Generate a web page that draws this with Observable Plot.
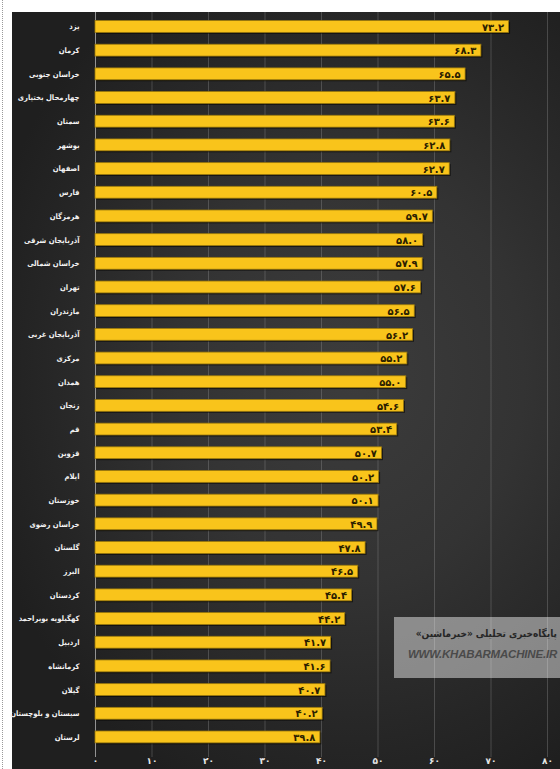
<!DOCTYPE html>
<html>
<head>
<meta charset="utf-8">
<script src="https://cdn.jsdelivr.net/npm/d3@7"></script>
<script src="https://cdn.jsdelivr.net/npm/@observablehq/plot@0.6"></script>
<style>
  html, body { margin: 0; padding: 0; background: #fff; }
  #page { position: relative; width: 560px; height: 769px; overflow: hidden; background: #fff; }
  #dots { position: absolute; left: 2px; top: 0; height: 769px; border-left: 1px dotted #9a9a9a; }
  #panel { position: absolute; left: 12px; top: 12px; width: 548px; height: 757px;
    background: radial-gradient(ellipse 70% 60% at 62% 48%, #3c3c3c 0%, #333 45%, #262626 80%, #1f1f1f 100%); }
  #panel svg { display: block; overflow: visible; }
  #wm { position: absolute; left: 394px; top: 617px; width: 166px; height: 61px;
    background: rgba(255,255,255,0.45); box-sizing: border-box; padding-right: 3px; }
  #wm .fa { direction: rtl; text-align: right; font-family: "DejaVu Sans Condensed", "DejaVu Sans", sans-serif; font-weight: bold;
    font-size: 10px; color: #262626; margin-top: 11px; white-space: nowrap; }
  #wm .en { text-align: right; font-family: "Liberation Sans", Arial, sans-serif; font-style: italic; font-weight: bold;
    font-size: 11.5px; color: #4a4a4a; margin-top: 9px; white-space: nowrap; letter-spacing: -0.2px; }
</style>
</head>
<body>
<div id="page">
  <div id="dots"></div>
  <div id="panel"></div>
  <div id="wm">
    <div class="fa">پایگاه‌خبری تحلیلی «خبرماشین»</div>
    <div class="en">WWW.KHABARMACHINE.IR</div>
  </div>
</div>
<script>
// ---- data ----
const provinces = [
  "یزد", "کرمان", "خراسان جنوبی", "چهارمحال بختیاری", "سمنان", "بوشهر", "اصفهان",
  "فارس", "هرمزگان", "آذربایجان شرقی", "خراسان شمالی", "تهران", "مازندران",
  "آذربایجان غربی", "مرکزی", "همدان", "زنجان", "قم", "قزوین", "ایلام", "خوزستان",
  "خراسان رضوی", "گلستان", "البرز", "کردستان", "کهگیلویه بویراحمد", "اردبیل",
  "کرمانشاه", "گیلان", "سیستان و بلوچستان", "لرستان"
];
const values = [
  73.2, 68.3, 65.5, 63.7, 63.6, 62.8, 62.7,
  60.5, 59.7, 58.0, 57.9, 57.6, 56.5,
  56.2, 55.2, 55.0, 54.6, 53.4, 50.7, 50.2, 50.1,
  49.9, 47.8, 46.5, 45.4, 44.2, 41.7,
  41.6, 40.7, 40.2, 39.8
];
const xTicks = [0, 10, 20, 30, 40, 50, 60, 70, 80];

const faDigits = "۰۱۲۳۴۵۶۷۸۹";
const toFa = s => String(s).replace(/[0-9]/g, d => faDigits[+d]);
const data = provinces.map((p, i) => ({province: p, value: values[i]}));

const chart = Plot.plot({
  width: 548, height: 757,
  marginLeft: 83, marginRight: 13, marginTop: 0, marginBottom: 24,
  style: {background: "transparent", fontFamily: "'DejaVu Sans', sans-serif"},
  x: {domain: [0, 80], axis: null},
  y: {domain: provinces, range: [-3.3, 742.7], padding: 0.5, round: false, axis: null},
  marks: [
    Plot.ruleX(xTicks.filter(t => t > 0), {stroke: "#9a9a9a", strokeOpacity: 0.33, strokeWidth: 1, insetBottom: -12}),
    Plot.ruleX([0], {stroke: "#b0b0b0", strokeOpacity: 0.8, strokeWidth: 1, insetBottom: -12}),
    Plot.axisX({ticks: xTicks, tickSize: 0, tickPadding: 12, tickFormat: d => toFa(d), label: null,
      fontSize: 9, fontWeight: "bold", fill: "#e6e6e6"}),
    Plot.axisY({tickSize: 0, tickPadding: 16, label: null, fontSize: 7.6,
      fontFamily: "'DejaVu Sans Condensed', 'DejaVu Sans', sans-serif", fontWeight: "bold", fill: "#f2f2f2"}),
    Plot.barX(data, {x: "value", y: "province", fill: "#000", fillOpacity: 0.55, dx: 1.5, dy: 1.5}),
    Plot.barX(data, {x: "value", y: "province", fill: "#f9c41b", stroke: "#9c7a0c", strokeWidth: 0.8}),
    Plot.text(data, {x: "value", y: "province", text: d => toFa(d.value.toFixed(1)),
      textAnchor: "end", dx: -5, dy: 0.5, fill: "#2b2000", fontSize: 10, fontWeight: "bold"})
  ]
});
document.getElementById("panel").appendChild(chart);
</script>
</body>
</html>
